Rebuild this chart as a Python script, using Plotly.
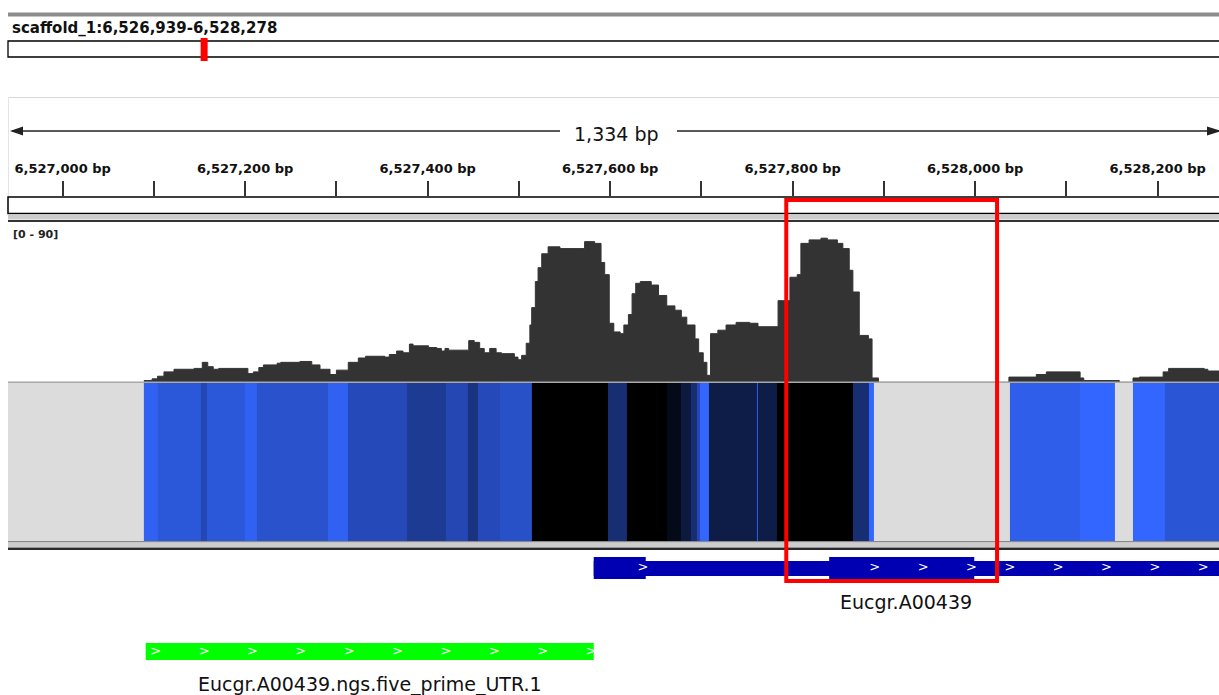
import plotly.graph_objects as go

# ---- locus -----------------------------------------------------------------
CHROM = "scaffold_1"
LOCUS_START = 6526939
LOCUS_END = 6528278
SCAFFOLD_LEN = 40300000
RULER_SPAN_BP = 1334
DATA_RANGE = (0, 90)

# ---- coverage (step profile: position where a level starts, level) --------
cov_pos = [
    6527089, 6527098, 6527104, 6527111, 6527122, 6527144, 6527153, 6527159, 6527165, 6527171,
    6527203, 6527209, 6527215, 6527220, 6527235, 6527239, 6527260, 6527273, 6527282, 6527293,
    6527300, 6527313, 6527324, 6527332, 6527353, 6527358, 6527366, 6527373, 6527380, 6527384,
    6527401, 6527410, 6527415, 6527419, 6527423, 6527445, 6527451, 6527457, 6527462, 6527468,
    6527475, 6527481, 6527495, 6527499, 6527503, 6527508, 6527512, 6527514, 6527518, 6527521,
    6527525, 6527532, 6527545, 6527566, 6527572, 6527583, 6527590, 6527594, 6527599, 6527604,
    6527611, 6527615, 6527620, 6527624, 6527628, 6527633, 6527645, 6527653, 6527662, 6527671,
    6527678, 6527684, 6527693, 6527697, 6527702, 6527706, 6527710, 6527718, 6527727, 6527738,
    6527753, 6527762, 6527784, 6527797, 6527805, 6527809, 6527818, 6527831, 6527838, 6527849,
    6527855, 6527862, 6527866, 6527873, 6527883, 6527887, 6527894, 6528037, 6528067, 6528078,
    6528115, 6528119, 6528158, 6528173, 6528180, 6528206, 6528212, 6528251, 6528255, 6528278,
]
cov_val = [
    1, 2, 3.5, 6, 7.5, 8, 11.5, 9, 7.5, 8,
    5, 6, 8.5, 10, 11, 11.5, 12, 10, 7.5, 4.5,
    7, 11.5, 14, 15, 14.5, 16, 18, 17, 22, 21,
    20, 19.5, 18, 19.5, 18.5, 24, 23, 19.5, 17, 19.5,
    17, 16.5, 14.5, 13, 15.5, 22.5, 33, 43, 58, 66,
    74, 78, 77, 77, 81, 80, 69, 62, 34, 29,
    28, 33, 39, 51, 57, 58, 56, 50, 44, 41.5,
    37.5, 33, 25, 17, 11.5, 4, 28, 30, 33, 34.5,
    34, 32, 47, 60.5, 62, 80, 82, 83, 82, 80,
    77, 64.5, 52, 27, 25, 2.5, 0, 3, 4.5, 6,
    2.5, 1, 0, 2.5, 3, 6, 8, 7.5, 6.5, 6.5,
]

# ---- heatmap track (bin edges and relative intensity per bin; None = no data)
heat_edges = [
    6527089, 6527104, 6527152, 6527158, 6527200, 6527213, 6527291, 6527313, 6527377, 6527420,
    6527444, 6527455, 6527479, 6527514, 6527597, 6527618, 6527662, 6527677, 6527688, 6527695,
    6527698, 6527708, 6527761, 6527762, 6527783, 6527866, 6527883, 6527889, 6528038, 6528115,
    6528153, 6528173, 6528208, 6528278,
]
heat_val = [
    0.05, 0.15, 0.3, 0.15, 0.05, 0.2, 0.05, 0.28, 0.42, 0.3,
    0.5, 0.28, 0.22, 1.0, 0.55, 1.0, 0.9, 0.75, 0.55, 0.3,
    0.0, 0.72, 0.1, 0.72, 1.0, 0.55, 0.0, None, 0.08, 0.0,
    None, 0.0, 0.17,
]

# ---- features --------------------------------------------------------------
gene_name = "Eucgr.A00439"
gene_span = (6527582, 6528306)
gene_thick = [(6527582, 6527639), (6527840, 6527999)]
gene_chevron_blocks = [(6527582, 6527639), (6527840, 6527999), (6527999, 6528306)]
utr_name = "Eucgr.A00439.ngs.five_prime_UTR.1"
utr_span = (6527091, 6527582)
highlight = (6527793, 6528024)

# ---- page geometry ---------------------------------------------------------
W, H = 1219, 695
PX_PER_BP = 0.9125
LEFT_PAD = 7
X0 = LOCUS_START - LEFT_PAD / PX_PER_BP
X1 = LOCUS_START + (W - LEFT_PAD) / PX_PER_BP


def px(x):
    return x / W


def py(y):
    return 1 - y / H


def chevrons(blocks, step=53, back=3, margin=8):
    out = []
    for s, e in blocks:
        p = e - back
        while p > s + margin:
            if p < X1 - 12:
                out.append(p)
            p -= step
    return sorted(out)


fig = go.Figure()

# coverage
fig.add_trace(go.Scatter(
    x=cov_pos, y=cov_val, mode="lines", line_shape="hv",
    line=dict(color="#333333", width=1), fill="tozeroy", fillcolor="#333333",
    xaxis="x", yaxis="y", hoverinfo="skip", showlegend=False,
))

# heatmap track
fig.add_trace(go.Heatmap(
    x=heat_edges, y=[0, 1], z=[heat_val], zmin=0, zmax=1,
    colorscale=[[0, "#3366ff"], [1, "#000000"]], showscale=False,
    xaxis="x", yaxis="y2", hoverinfo="skip",
))

# strand chevrons on features
gchev = chevrons(gene_chevron_blocks)
uchev = chevrons([utr_span])
fig.add_trace(go.Scatter(
    x=gchev + uchev, y=[568] * len(gchev) + [651.5] * len(uchev),
    mode="text", text=[">"] * (len(gchev) + len(uchev)),
    textfont=dict(color="white", size=13, family="DejaVu Sans"),
    xaxis="x", yaxis="y3", hoverinfo="skip", showlegend=False,
))

shapes = []


def prect(x0, y0, x1, y1, fill=None, line=None, lw=0, layer="above"):
    shapes.append(dict(type="rect", xref="paper", yref="paper",
                       x0=px(x0), x1=px(x1), y0=py(y1), y1=py(y0),
                       fillcolor=fill or "rgba(0,0,0,0)",
                       line=dict(color=line or "rgba(0,0,0,0)", width=lw),
                       layer=layer))


def pline(x0, y0, x1, y1, color, width):
    shapes.append(dict(type="line", xref="paper", yref="paper",
                       x0=px(x0), x1=px(x1), y0=py(y0), y1=py(y1),
                       line=dict(color=color, width=width)))


# header and ideogram
prect(8, 12.5, 1230, 16.5, fill="#8c8c8c")
prect(8, 41, 1230, 57, fill="white", line="#000000", lw=1.3)
mark_x = 8 + (LOCUS_START / SCAFFOLD_LEN) * (W - 8)
prect(mark_x - 3.5, 38, mark_x + 3.5, 61, fill="#ff0000")

# ruler frame
pline(8, 97.5, 1230, 97.5, "#d8d8d8", 1.2)
pline(8.5, 97, 8.5, 197, "#e4e4e4", 1)
pline(12, 131, 560, 131, "#222222", 1.3)
pline(677, 131, 1219, 131, "#222222", 1.3)
shapes.append(dict(type="path", xref="paper", yref="paper",
                   path=f"M {px(10)},{py(131)} L {px(23)},{py(126.5)} L {px(23)},{py(135.5)} Z",
                   fillcolor="#222222", line=dict(width=0)))
shapes.append(dict(type="path", xref="paper", yref="paper",
                   path=f"M {px(1221)},{py(131)} L {px(1207)},{py(126.5)} L {px(1207)},{py(135.5)} Z",
                   fillcolor="#222222", line=dict(width=0)))
prect(8, 197, 1230, 213.5, fill="white", line="#000000", lw=1.5)
prect(8, 214.5, 1230, 219.5, fill="#cccccc")
pline(8, 221, 1230, 221, "#333333", 2.2)

# coverage baseline and heatmap background
pline(8, 382.3, 1230, 382.3, "#a8a8a8", 1.4)
prect(8, 383, 1230, 541, fill="#dcdcdc", layer="below")

# lower separator
pline(8, 541.8, 1230, 541.8, "#8a8a8a", 1.4)
prect(8, 543, 1230, 547, fill="#cdcdcd")
pline(8, 548.8, 1230, 548.8, "#2a2a2a", 2.4)

# gene model
shapes.append(dict(type="rect", xref="x", yref="paper",
                   x0=gene_span[0], x1=gene_span[1], y0=py(576), y1=py(561),
                   fillcolor="#0000b2", line=dict(width=0), layer="below"))
for s, e in gene_thick:
    shapes.append(dict(type="rect", xref="x", yref="paper",
                       x0=s, x1=e, y0=py(579), y1=py(557),
                       fillcolor="#0000b2", line=dict(width=0), layer="below"))
# UTR feature
shapes.append(dict(type="rect", xref="x", yref="paper",
                   x0=utr_span[0], x1=utr_span[1], y0=py(660), y1=py(643),
                   fillcolor="#00ff00", line=dict(width=0), layer="below"))

# highlighted region
shapes.append(dict(type="rect", xref="x", yref="paper",
                   x0=highlight[0], x1=highlight[1], y0=py(581), y1=py(200),
                   line=dict(color="#ff0000", width=4), fillcolor="rgba(0,0,0,0)",
                   layer="above"))

# text
annotations = [
    dict(text=f"{CHROM}:{LOCUS_START:,}-{LOCUS_END:,}", xref="paper", yref="paper",
         x=px(10), y=py(28), xanchor="left", yanchor="middle", showarrow=False,
         font=dict(family="DejaVu Sans", size=15, color="#111111", weight="bold")),
    dict(text=f"{RULER_SPAN_BP:,} bp", xref="paper", yref="paper",
         x=px(616), y=py(134), xanchor="center", yanchor="middle", showarrow=False,
         font=dict(family="DejaVu Sans", size=19, color="#111111")),
    dict(text=f"[{DATA_RANGE[0]} - {DATA_RANGE[1]}]", xref="paper", yref="paper",
         x=px(11), y=py(234), xanchor="left", yanchor="middle", showarrow=False,
         font=dict(family="DejaVu Sans", size=11, color="#222222", weight="bold")),
    dict(text=gene_name, xref="x", yref="paper",
         x=(max(gene_span[0], X0) + min(gene_span[1], X1)) / 2, y=py(602),
         xanchor="center", yanchor="middle", showarrow=False,
         font=dict(family="DejaVu Sans", size=19, color="#111111")),
    dict(text=utr_name, xref="x", yref="paper",
         x=(utr_span[0] + utr_span[1]) / 2, y=py(684),
         xanchor="center", yanchor="middle", showarrow=False,
         font=dict(family="DejaVu Sans", size=19, color="#111111")),
]

tick_vals = list(range(6527000, 6528300, 100))
tick_text = [f"{v:,} bp" if v % 200 == 0 else "" for v in tick_vals]

fig.update_layout(
    width=W, height=H, margin=dict(l=0, r=0, t=0, b=0),
    paper_bgcolor="white", plot_bgcolor="rgba(0,0,0,0)",
    showlegend=False, shapes=shapes, annotations=annotations,
    xaxis=dict(range=[X0, X1], domain=[0, 1], visible=False, anchor="y"),
    yaxis=dict(range=list(DATA_RANGE), domain=[py(382.3), py(226)], visible=False, anchor="x"),
    yaxis2=dict(range=[0, 1], domain=[py(541), py(383)], visible=False, anchor="x"),
    yaxis3=dict(range=[H, 0], domain=[0, 1], visible=False, anchor="x"),
    xaxis2=dict(range=[X0, X1], domain=[0, 1], anchor="y4", side="top",
                showgrid=False, zeroline=False, showline=False,
                ticks="outside", ticklen=15, tickwidth=1.5, tickcolor="#333333",
                tickvals=tick_vals, ticktext=tick_text, ticklabelstandoff=3,
                tickfont=dict(family="DejaVu Sans", size=13, color="#111111", weight="bold")),
    yaxis4=dict(range=[0, 1], domain=[py(213), py(197)], visible=False, anchor="x2"),
)
# an empty trace keeps the ruler axis drawn
fig.add_trace(go.Scatter(x=[], y=[], xaxis="x2", yaxis="y4", showlegend=False))

fig.write_html("out.html")
